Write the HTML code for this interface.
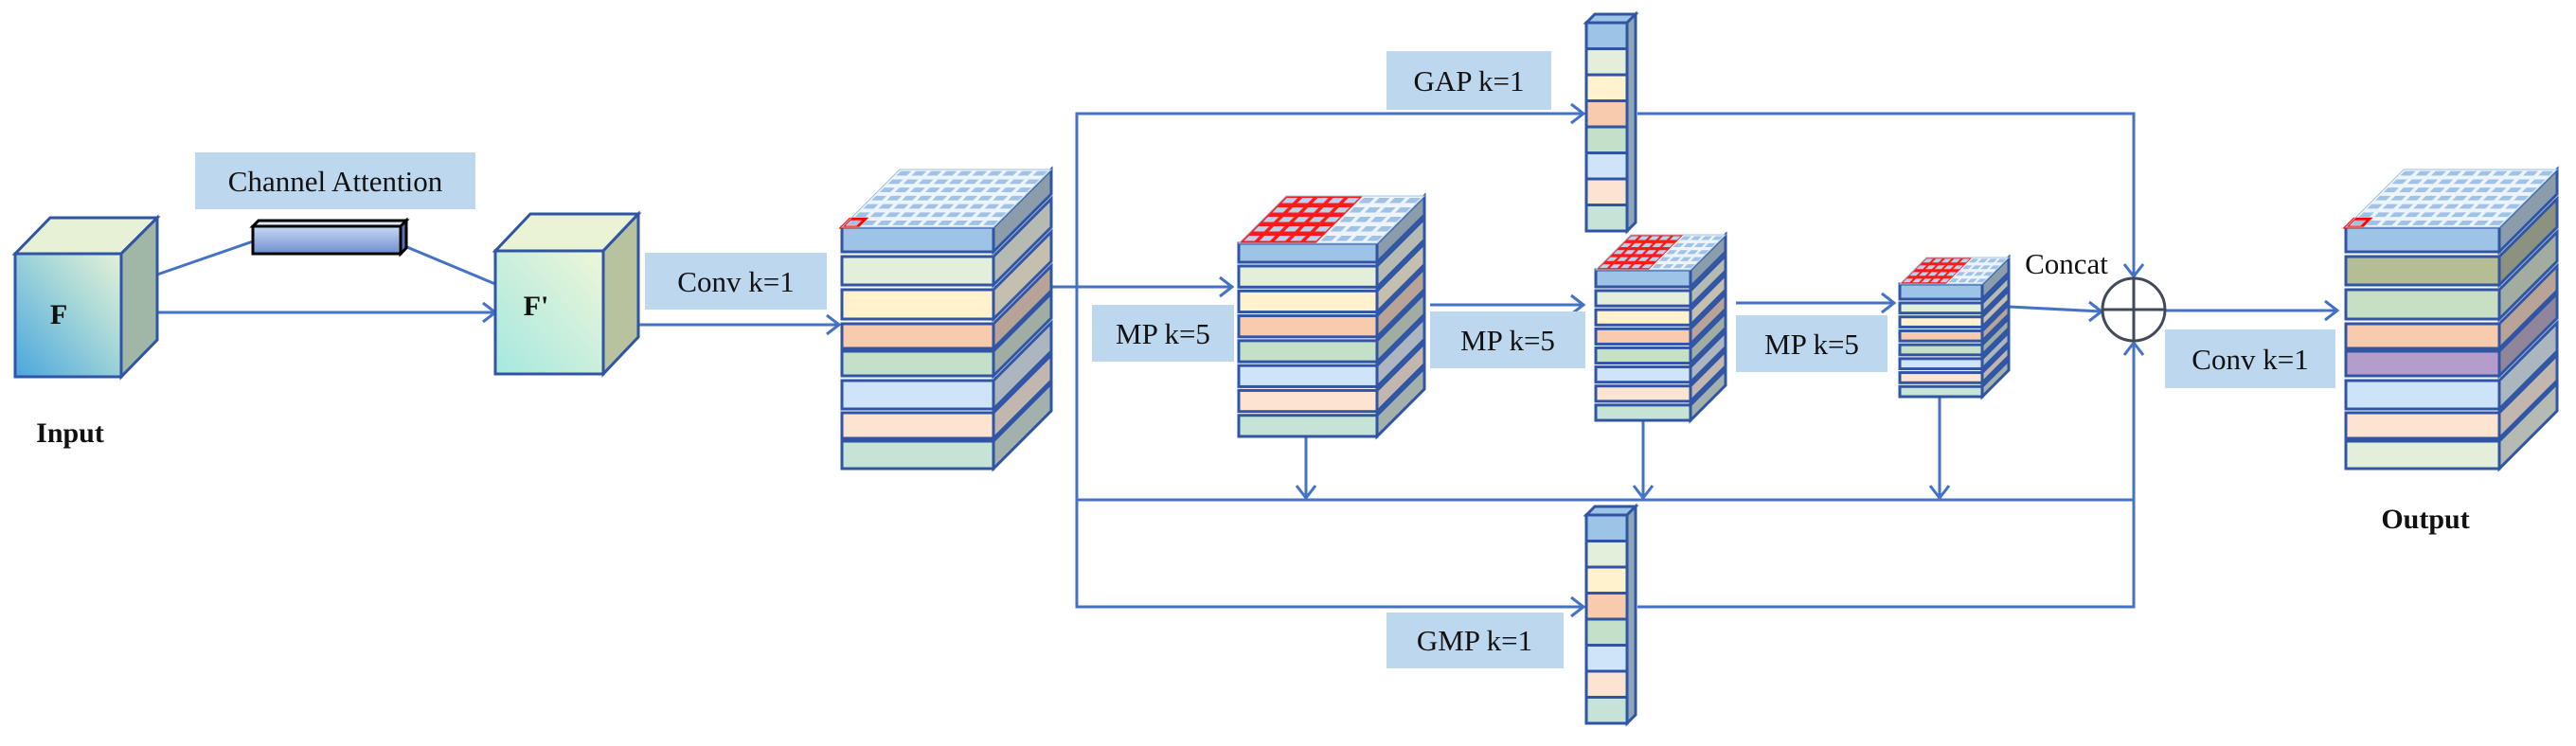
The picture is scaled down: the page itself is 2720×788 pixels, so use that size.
<!DOCTYPE html>
<html><head><meta charset="utf-8"><style>
html,body{margin:0;padding:0;background:#fff;}
svg{display:block;}
text{font-family:"Liberation Serif",serif;}
</style></head><body>
<svg id="s" width="2720" height="788" viewBox="0 0 2720 788" xmlns="http://www.w3.org/2000/svg">
<defs>
<linearGradient id="gF" x1="0" y1="1" x2="1" y2="0"><stop offset="0" stop-color="#4aa6de"/><stop offset="0.6" stop-color="#a8d8d8"/><stop offset="1" stop-color="#e4f1d8"/></linearGradient>
<linearGradient id="gF2" x1="0" y1="1" x2="1" y2="0"><stop offset="0" stop-color="#a6e8e0"/><stop offset="1" stop-color="#eef6d8"/></linearGradient>
<linearGradient id="gBar" x1="0" y1="0" x2="0" y2="1"><stop offset="0" stop-color="#c9d8f2"/><stop offset="1" stop-color="#6f8fd0"/></linearGradient>
</defs>
<g id="lines" stroke="#4472c4" stroke-width="3" fill="none">
<!-- channel attention -->
<polyline points="166,290 267,255"/>
<polyline points="425,259 523,300"/>
<polyline points="166,330 523,330"/><polyline points="510,320 523,330 510,340"/>
<polyline points="674,343 886,343"/><polyline points="873,333 886,343 873,353"/>
<!-- main branch -->
<polyline points="1110,303 1301,303"/><polyline points="1288,293 1301,303 1288,313"/>
<polyline points="1137,303 1137,120 1672,120"/><polyline points="1659,110 1672,120 1659,130"/>
<polyline points="1137,303 1137,641 1672,641"/><polyline points="1659,631 1672,641 1659,651"/>
<polyline points="1137,528 2253,528"/>
<polyline points="1729,120 2253,120 2253,292"/><polyline points="2243,279 2253,292 2263,279"/>
<polyline points="1729,641 2253,641 2253,362"/><polyline points="2243,375 2253,362 2263,375"/>
<polyline points="1510,322 1672,322"/><polyline points="1659,312 1672,322 1659,332"/>
<polyline points="1833,320 2000,320"/><polyline points="1987,310 2000,320 1987,330"/>
<polyline points="2121,324 2219,329"/><polyline points="2206,319 2219,329 2206,339"/>
<polyline points="2286,328 2468,328"/><polyline points="2455,318 2468,328 2455,338"/>
<polyline points="1379,461 1379,526"/><polyline points="1369,513 1379,526 1389,513"/>
<polyline points="1735,444 1735,526"/><polyline points="1725,513 1735,526 1745,513"/>
<polyline points="2048,419 2048,526"/><polyline points="2038,513 2048,526 2058,513"/>
</g>
<circle cx="2253" cy="327" r="33" fill="#fff" stroke="#404a5a" stroke-width="3"/>
<line x1="2220" y1="327" x2="2286" y2="327" stroke="#404a5a" stroke-width="3"/>
<line x1="2253" y1="294" x2="2253" y2="360" stroke="#404a5a" stroke-width="3"/>

<!-- F cube -->
<polygon points="16,268 53,230 166,230 128,268" fill="#e6f1d6" stroke="#2f55a4" stroke-width="3"/>
<polygon points="128,268 166,230 166,359 128,398" fill="#9fb7a4" stroke="#2f55a4" stroke-width="3"/>
<rect x="16" y="268" width="112" height="130" fill="url(#gF)" stroke="#2f55a4" stroke-width="3"/>
<!-- F' cube -->
<polygon points="523,265 560,226 674,226 637,265" fill="#eaf3d4" stroke="#2f55a4" stroke-width="3"/>
<polygon points="637,265 674,226 674,356 637,395" fill="#b9c29e" stroke="#2f55a4" stroke-width="3"/>
<rect x="523" y="265" width="114" height="130" fill="url(#gF2)" stroke="#2f55a4" stroke-width="3"/>
<!-- bar -->
<polygon points="267,239 273,233 429,233 423,239" fill="#dfe8f8" stroke="#000" stroke-width="3"/>
<polygon points="423,239 429,233 429,262 423,268" fill="#5a74b8" stroke="#000" stroke-width="3"/>
<rect x="267" y="239" width="156" height="29" fill="url(#gBar)" stroke="#000" stroke-width="3"/>

<g id="stacks"></g>

<!-- labels -->
<g fill="#bdd7ee">
<rect x="206" y="161" width="296" height="60"/>
<rect x="681" y="267" width="192" height="60"/>
<rect x="1153" y="322" width="150" height="60"/>
<rect x="1510" y="329" width="164" height="60"/>
<rect x="1833" y="333" width="160" height="60"/>
<rect x="1464" y="54" width="174" height="62"/>
<rect x="1464" y="647" width="187" height="59"/>
<rect x="2286" y="348" width="180" height="62"/>
</g>
<g font-size="31" fill="#111">
<text x="354" y="202" text-anchor="middle">Channel Attention</text>
<text x="777" y="308" text-anchor="middle">Conv k=1</text>
<text x="1228" y="363" text-anchor="middle">MP k=5</text>
<text x="1592" y="370" text-anchor="middle">MP k=5</text>
<text x="1913" y="374" text-anchor="middle">MP k=5</text>
<text x="1551" y="96" text-anchor="middle">GAP k=1</text>
<text x="1557" y="687" text-anchor="middle">GMP k=1</text>
<text x="2376" y="390" text-anchor="middle">Conv k=1</text>
<text x="2182" y="289" text-anchor="middle">Concat</text>
</g>
<g font-size="30" font-weight="bold" fill="#111">
<text x="62" y="342" text-anchor="middle">F</text>
<text x="566" y="333" text-anchor="middle">F'</text>
<text x="74" y="467" text-anchor="middle">Input</text>
<text x="2561" y="558" text-anchor="middle">Output</text>
</g>
</svg>
<script>
(function(){
var NS="http://www.w3.org/2000/svg",G=document.getElementById("stacks");
function el(t,a){var e=document.createElementNS(NS,t);for(var k in a)e.setAttribute(k,a[k]);G.appendChild(e);return e;}
function dark(c){var r=parseInt(c.substr(1,2),16),g=parseInt(c.substr(3,2),16),b=parseInt(c.substr(5,2),16);
 var m=(r+g+b)/3;function f(v){return Math.round((v*0.55+m*0.45)*0.8);}return "rgb("+f(r)+","+f(g)+","+f(b)+")";}
var BL="#2f55a4";
function stack(x0,x1,d,layers,grid,red){
 for(var i=layers.length-1;i>=0;i--){var L=layers[i],yt=L[0],yb=L[1],c=L[2];
  el("polygon",{points:[x1,yt,x1+d,yt-d,x1+d,yb-d,x1,yb].join(","),fill:dark(c),stroke:BL,"stroke-width":3});
  el("rect",{x:x0,y:yt,width:x1-x0,height:yb-yt,fill:c,stroke:BL,"stroke-width":3});}
 var yt=layers[0][0];
 function P(u,v){return [x0+u*(x1-x0)+v*d, yt-v*d];}
 var pts=[P(0,0),P(0,1),P(1,1),P(1,0)];
 el("polygon",{points:pts.join(","),fill:"#eef4fb",stroke:"none"});
 var cols=grid[0],rows=grid[1];
 if(red){var ru=red[0],rv=red[1];var rp=[P(0,0),P(0,rv),P(ru,rv),P(ru,0)];el("polygon",{points:rp.join(","),fill:"#ff1a1a"});}
 for(var a=0;a<cols;a++)for(var b=0;b<rows;b++){
  var u0=a/cols+0.18/cols,u1=(a+1)/cols-0.12/cols,v0=b/rows+0.25/rows,v1=(b+1)/rows-0.2/rows;
  var inRed=red&&((a+1)/cols<=red[0]+1e-6)&&((b+1)/rows<=red[1]+1e-6);
  el("polygon",{points:[P(u0,v0),P(u0,v1),P(u1,v1),P(u1,v0)].join(","),fill:inRed?"#b9d3ee":"#9fc2e6"});}
 if(!red){var c0=[P(0,0),P(0,1/rows),P(1/cols,1/rows),P(1/cols,0)];el("polygon",{points:c0.join(","),fill:"none",stroke:"#ff0000","stroke-width":3});}
 el("polygon",{points:pts.join(","),fill:"none",stroke:"#9dc3e6","stroke-width":1});
}
function gen(yt,yb,n,first,cols){var L=[],h=(yb-yt-first-(n-1)*4)/(n-1);L.push([yt,yt+first,cols[0]]);var y=yt+first+4;
 for(var i=1;i<n;i++){L.push([y,y+h,cols[i]]);y+=h+4;}return L;}
var C1=["#9dc3e6","#e2efda","#fff2cc","#f8cbad","#c5e0c9","#cfe4f8","#fce4d0","#c5e3d6"];
var L1=[[240,266,C1[0]],[271,301,C1[1]],[306,337,C1[2]],[342,368,C1[3]],[371,397,C1[4]],[402,432,C1[5]],[436,463,C1[6]],[466,495,C1[7]]];
stack(889,1049,61,L1,[10,7],null);
var CO=["#9dc3e6","#b4bd94","#c8dfc3","#f8cbad","#b49ccb","#cde4f8","#fce4d0","#e2efda"];
stack(2477,2639,61,L1.map(function(l,i){return [l[0],l[1],CO[i]];}),[10,7],null);
stack(1308,1454,50,gen(257,461,8,20,C1),[9,5],[5/9,1]);
stack(1685,1785,37,gen(285,444,8,18,C1),[9,5],[5/9,1]);
stack(2006,2093,28,gen(300,419,8,16,C1),[9,4],[5/9,1]);
function col(y0,y1){var x0=1675,x1=1718,d=9,n=8,h=(y1-y0)/n;
 el("polygon",{points:[x0,y0,x0+d,y0-d,x1+d,y0-d,x1,y0].join(","),fill:"#9dc3e6",stroke:BL,"stroke-width":3});
 el("polygon",{points:[x1,y0,x1+d,y0-d,x1+d,y1-d,x1,y1].join(","),fill:"#8fa6b8",stroke:BL,"stroke-width":3});
 for(var i=0;i<n;i++)el("rect",{x:x0,y:y0+i*h,width:x1-x0,height:h,fill:C1[i],stroke:BL,"stroke-width":3});}
col(24,244);col(544,764);
})();
</script>
</body></html>
